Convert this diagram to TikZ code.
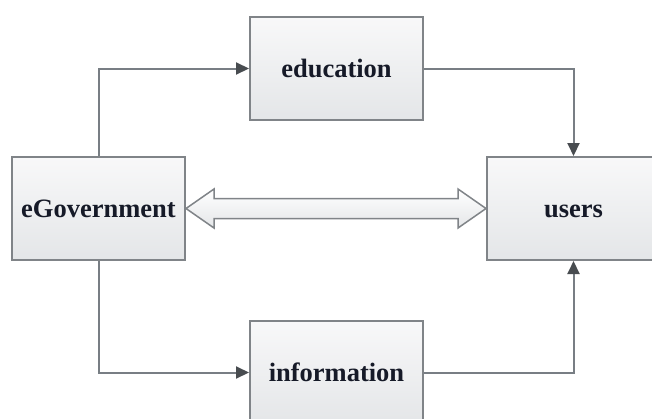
\documentclass[tikz,border=0pt]{standalone}
\usepackage{fontspec}
\setmainfont{Liberation Serif}
\usetikzlibrary{arrows.meta, calc}
\definecolor{boxedge}{RGB}{128,132,136}
\definecolor{linkgray}{RGB}{120,126,132}
\definecolor{tipgray}{RGB}{72,76,80}
\definecolor{boxtop}{RGB}{248,248,249}
\definecolor{boxbot}{RGB}{228,230,232}
\definecolor{labelink}{RGB}{22,26,40}

\begin{document}
\begin{tikzpicture}[x=1pt,y=-1pt,
  block/.style={draw=boxedge,line width=2pt,top color=boxtop,bottom color=boxbot,
    minimum width=173pt,minimum height=103pt,inner sep=0pt,
    text height=20pt,text depth=3pt,
    font=\fontsize{26.5}{30}\selectfont\bfseries,text=labelink},
  link/.style={draw=linkgray,line width=2pt,-{Triangle[length=13pt,width=12pt,color=tipgray]}},
  dblarrow/.style={draw=boxedge,line width=1.5pt,top color=white,bottom color=boxbot,line join=miter}]
  \useasboundingbox (0,0) rectangle (652,418);
  \clip (0,0) rectangle (652,418);
  \fill[white] (0,0) rectangle (652,418);
  % boxes
  \node[block] (gov) at (98.5,208.5) {eGovernment};
  \node[block] (edu) at (336.5,68.5) {education};
  \node[block] (info) at (336.5,372.5) {information};
  \node[block] (usr) at (573.5,208.5) {users};
  % connectors
  \draw[link] (gov.north) |- (edu.west);
  \draw[link] (edu.east) -| (usr.north);
  \draw[link] (gov.south) |- (info.west);
  \draw[link] (info.east) -| (usr.south);
  % two-way arrow between eGovernment and users
  \draw[dblarrow] (gov.east) -- ++(28,-19.5) -- ++(0,9.5)
    -- ($(usr.west)+(-28,-10)$) -- ++(0,-9.5) -- (usr.west)
    -- ++(-28,19.5) -- ++(0,-9.5) -- ($(gov.east)+(28,10)$)
    -- ++(0,9.5) -- cycle;
\end{tikzpicture}
\end{document}
